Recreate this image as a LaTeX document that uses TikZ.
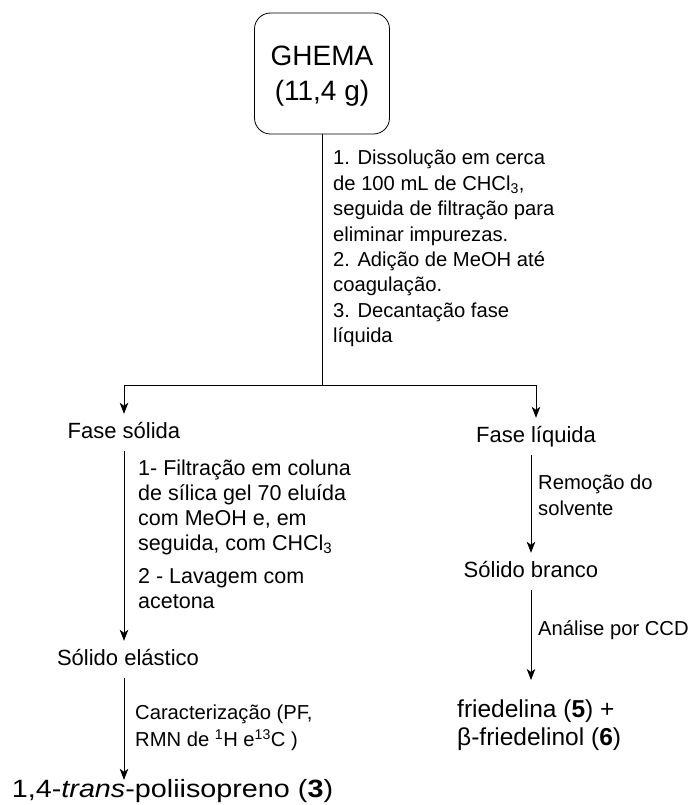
\documentclass[tikz,border=0pt]{standalone}
\usepackage{fontspec}
\setmainfont{Liberation Sans}
\newfontfamily\widefont[FakeStretch=1.15]{Liberation Sans}
\usetikzlibrary{arrows.meta}

\begin{document}
\begin{tikzpicture}[
        x=1pt, y=1pt
        , start/.style={
             rectangle
            , draw
            , line width=0.8pt
            , align=center
            , rounded corners=16pt
            , minimum width=135pt
            , minimum height=121pt
            , text depth=0pt
            , font=\fontsize{28}{35}\selectfont
        }
        , stage/.style={
             font=\fontsize{22}{26}\selectfont
            , inner xsep=0pt
            , inner ysep=8pt
            , text height=16pt
            , text depth=5pt
            , anchor=base
        }
        , note/.style={
             align=left
            , inner sep=0pt
            , anchor=north west
            , font=\fontsize{20.2}{25.4}\selectfont
        }
        , product/.style={
             align=left
            , inner xsep=0pt
            , inner ysep=20pt
            , anchor=north west
            , font=\fontsize{24.5}{28}\selectfont
        }
        , link/.style={line width=0.8pt}
        , arrow/.style={line width=0.8pt, -{Stealth[length=11pt,width=8.5pt,inset=3pt]}}
        ]
        \useasboundingbox (0,0) rectangle (691,-805);

        \node[start] (ghema) at (322,-73.5) {GHEMA\\(11,4 g)};
        \coordinate (split) at (ghema.south |- 0,-385);

        \node[stage] (solida) at (124,-438) {Fase sólida};
        \node[stage] (liquida) at (536,-442) {Fase líquida};
        \node[stage] (branco) at (531,-577) {Sólido branco};
        \node[stage] (elastico) at (128,-665) {Sólido elástico};
        \node[stage, inner ysep=0pt, text height=17pt,
              font=\widefont\fontsize{25}{30}\selectfont] (poli) at (172.5,-797)
              {1,4-\textit{trans}-poliisopreno (\textbf{3})};
        \node[product] (fried) at (457,-680)
              {friedelina (\textbf{5}) +\\β-friedelinol (\textbf{6})};

        \node[note] (dissol) at (333,-150) {1. Dissolução em cerca\\de 100 mL de CHCl\textsubscript{3},\\seguida de filtração para\\eliminar impurezas.\\2. Adição de MeOH até\\coagulação.\\3. Decantação fase\\líquida};
        \node[note, font=\fontsize{21.5}{25}\selectfont] (lavagem) at (138,-459.6)
              {1- Filtração em coluna\\de sílica gel 70 eluída\\com MeOH e, em\\seguida, com CHCl\textsubscript{3}\\[8pt]2 - Lavagem com\\acetona};
        \node[note] (remocao) at (538,-475) {Remoção do\\solvente};
        \node[note, anchor=base west] (analise) at (538,-635) {Análise por CCD};
        \node[note, font=\fontsize{20.2}{27}\selectfont] (carac) at (135,-705)
              {Caracterização (PF,\\RMN de \textsuperscript{1}H e\textsuperscript{13}C )};

        \draw[link] (ghema.south) -- (split);
        \draw[arrow] (split) -| (solida.north);
        \draw[arrow] (split) -| (liquida.north);
        \draw[arrow] (solida.south) -- (solida.south |- elastico.north);
        \draw[arrow] (elastico.south -| solida.south) -- (solida.south |- poli.north);
        \draw[arrow] (liquida.south -| branco.south) -- (branco.north);
        \draw[arrow] (branco.south) -- (branco.south |- fried.north);

    \end{tikzpicture}
\end{document}
